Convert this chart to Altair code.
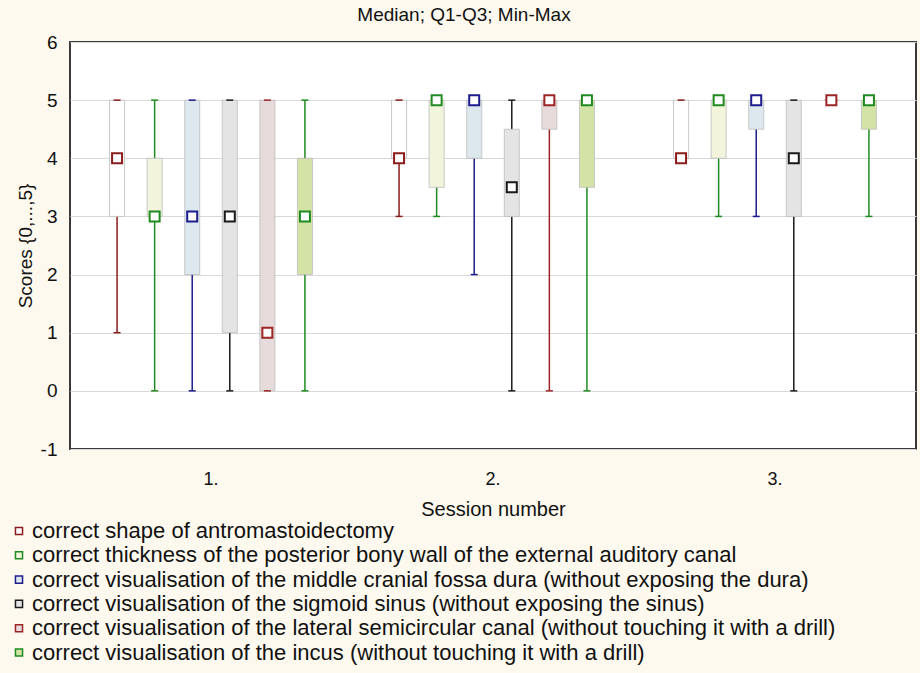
import altair as alt
import pandas as pd

SESSIONS = ["1.", "2.", "3."]
SERIES = [
    "correct shape of antromastoidectomy",
    "correct thickness of the posterior bony wall of the external auditory canal",
    "correct visualisation of the middle cranial fossa dura (without exposing the dura)",
    "correct visualisation of the sigmoid sinus (without exposing the sinus)",
    "correct visualisation of the lateral semicircular canal (without touching it with a drill)",
    "correct visualisation of the incus (without touching it with a drill)",
]
# per series, values for sessions 1., 2., 3.
MIN = [[1, 3, 4], [0, 3, 3], [0, 2, 3], [0, 0, 0], [0, 0, 5], [0, 0, 3]]
Q1 = [[3, 4, 4], [3, 3.5, 4], [2, 4, 4.5], [1, 3, 3], [0, 4.5, 5], [2, 3.5, 4.5]]
MEDIAN = [[4, 4, 4], [3, 5, 5], [3, 5, 5], [3, 3.5, 4], [1, 5, 5], [3, 5, 5]]
Q3 = [[5, 5, 5], [4, 5, 5], [5, 5, 5], [5, 4.5, 5], [5, 5, 5], [4, 5, 5]]
MAX = [[5, 5, 5], [5, 5, 5], [5, 5, 5], [5, 5, 5], [5, 5, 5], [5, 5, 5]]

COLORS = ["#8b1c1c", "#1f8a1f", "#1c1c8c", "#1a1a1a", "#9c2424", "#1f8a1f"]
FILLS = ["#ffffff", "#f2f5dc", "#dde8ee", "#e4e4e4", "#e6dada", "#d3e3a6"]

rows = []
for i, s in enumerate(SERIES):
    for j, sess in enumerate(SESSIONS):
        rows.append(dict(session=sess, series=s, lo=MIN[i][j], q1=Q1[i][j],
                         med=MEDIAN[i][j], q3=Q3[i][j], hi=MAX[i][j]))
df = pd.DataFrame(rows)

FONT = "Liberation Sans"

x_enc = alt.X("session:N",
              scale=alt.Scale(domain=SESSIONS, paddingInner=0.014, paddingOuter=0.007),
              axis=alt.Axis(title="Session number", labelAngle=0, ticks=False,
                            domain=False, labelPadding=21, titlePadding=11,
                            labelFontSize=18, titleFontSize=20))
xo_enc = alt.XOffset("series:N",
                     scale=alt.Scale(domain=SERIES, paddingInner=0.6, paddingOuter=1))
y_scale = alt.Scale(domain=[-1, 6], nice=False)
y_axis = alt.Axis(title="Scores {0,...,5}", values=[-1, 0, 1, 2, 3, 4, 5, 6],
                  labelExpr="'' + datum.value", ticks=False, domain=False,
                  labelPadding=13, titlePadding=5, labelFontSize=19, titleFontSize=19,
                  gridColor="#d9d9d9", gridWidth=1)
legend = alt.Legend(title=None, orient="none", legendX=-62, legendY=478,
                    symbolType="square", symbolSize=50, symbolStrokeWidth=1.5,
                    symbolFillColor="white", labelFontSize=22, labelFont=FONT,
                    labelColor="#111", labelLimit=900, rowPadding=2.3, labelOffset=2,
                    padding=0, symbolOffset=0)
stroke_enc = alt.Stroke("series:N", scale=alt.Scale(domain=SERIES, range=COLORS),
                        legend=legend, sort=SERIES)

base = alt.Chart(df).encode(x=x_enc, xOffset=xo_enc)

whisk = base.mark_rule(strokeWidth=1.5).encode(
    y=alt.Y("lo:Q", scale=y_scale, axis=y_axis), y2="hi:Q", stroke=stroke_enc)

box = base.mark_bar(stroke="#bdbdbd", strokeWidth=0.8).encode(
    y=alt.Y("q1:Q", scale=y_scale, axis=y_axis), y2="q3:Q",
    fill=alt.Fill("series:N", scale=alt.Scale(domain=SERIES, range=FILLS), legend=None))

cap_lo = base.mark_point(shape="M-1,0L1,0", size=49, strokeWidth=1.5, filled=False,
                         opacity=1).encode(
    y=alt.Y("lo:Q", scale=y_scale, axis=y_axis), stroke=stroke_enc)
cap_hi = base.mark_point(shape="M-1,0L1,0", size=49, strokeWidth=1.5, filled=False,
                         opacity=1).encode(
    y=alt.Y("hi:Q", scale=y_scale, axis=y_axis), stroke=stroke_enc)

med = base.mark_point(shape="square", size=100, filled=True, fill="white",
                      strokeWidth=2, opacity=1).encode(
    y=alt.Y("med:Q", scale=y_scale, axis=y_axis), stroke=stroke_enc)

chart = alt.layer(whisk, box, cap_lo, cap_hi, med).properties(
    width=846, height=407,
    title=alt.TitleParams("Median; Q1-Q3; Min-Max", fontSize=19, fontWeight="normal",
                          font=FONT, offset=8, dx=-29, color="#111"),
    autosize=alt.AutoSizeParams(type="none"),
    padding={"left": 70, "top": 42, "right": 4, "bottom": 224},
    background="#fdf9ee",
).configure_view(
    fill="white", stroke="#3a3a3a", strokeWidth=2
).configure_axis(
    labelFont=FONT, titleFont=FONT, labelColor="#111", titleColor="#111",
    titleFontWeight="normal"
)

chart.save("out.html", embed_options={"renderer": "svg", "actions": False})
